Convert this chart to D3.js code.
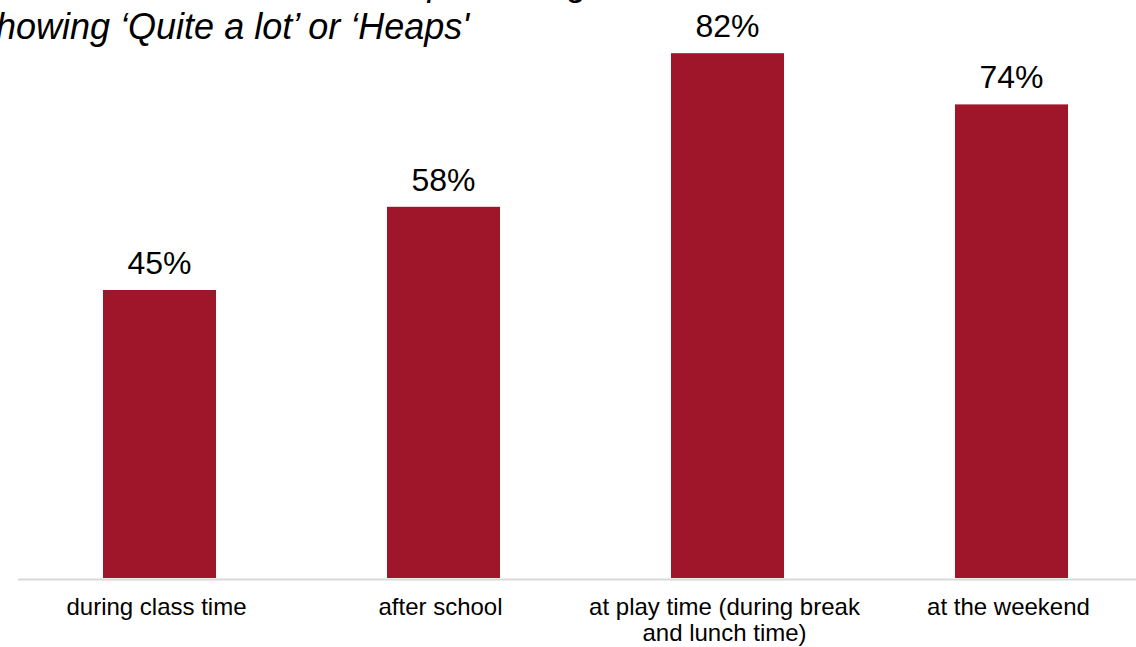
<!DOCTYPE html>
<html>
<head>
<meta charset="utf-8">
<script src="https://cdn.jsdelivr.net/npm/d3@7"></script>
<style>
  html, body { margin: 0; padding: 0; background: #fff; overflow: hidden; }
  svg { display: block; font-family: "Liberation Sans", Arial, sans-serif; }
</style>
</head>
<body>
<svg id="chart" width="1136" height="647"></svg>
<script>
// Share of children answering 'Quite a lot' or 'Heaps'
const categories = [
  ["during class time"],
  ["after school"],
  ["at play time (during break", "and lunch time)"],
  ["at the weekend"]
];
const values = [45, 58, 82, 74];
const titleLines = [
  "How much children are active, percentage",
  "showing \u2018Quite a lot\u2019 or \u2018Heaps'"
];

const svg = d3.select("#chart");
const baseY = 578;

const x = d3.scaleBand()
  .domain(d3.range(values.length))
  .range([17.5, 1153.5])
  .paddingInner(0.602)
  .paddingOuter(0.301);

const y = d3.scaleLinear()
  .domain([0, 100])
  .range([baseY, baseY - 640]);

// Title (two italic lines, top-left; runs past the top and left edges)
svg.append("text")
  .attr("x", 608)
  .attr("y", -5)
  .attr("text-anchor", "end")
  .attr("font-style", "italic")
  .attr("font-size", 36)
  .attr("fill", "#000")
  .text(titleLines[0]);
svg.append("text")
  .attr("x", -22)
  .attr("y", 39)
  .attr("font-style", "italic")
  .attr("font-size", 36)
  .attr("fill", "#000")
  .text(titleLines[1]);

// Bars
svg.append("g").selectAll("rect")
  .data(values)
  .join("rect")
  .attr("x", (d, i) => x(i))
  .attr("width", x.bandwidth())
  .attr("y", d => y(d))
  .attr("height", d => y(0) - y(d))
  .attr("fill", "#9F1529");

// Value labels
svg.append("g").selectAll("text")
  .data(values)
  .join("text")
  .attr("x", (d, i) => x(i) + x.bandwidth() / 2)
  .attr("y", d => y(d) - 16)
  .attr("text-anchor", "middle")
  .attr("font-size", 32)
  .attr("fill", "#000")
  .text(d => d + "%");

// Baseline axis
const xAxis = d3.axisBottom(x).tickSize(0).tickFormat("");
const axisG = svg.append("g")
  .attr("transform", `translate(0,${baseY + 1})`)
  .call(xAxis);
axisG.select(".domain").attr("stroke", "#d9d9d9").attr("stroke-width", 2);

// Category labels
const catG = svg.append("g");
categories.forEach((lines, i) => {
  const t = catG.append("text")
    .attr("text-anchor", "middle")
    .attr("font-size", 24)
    .attr("fill", "#000");
  lines.forEach((ln, j) => {
    t.append("tspan")
      .attr("x", x(i) + x.bandwidth() / 2 - 3)
      .attr("y", 615 + j * 26)
      .text(ln);
  });
});
</script>
</body>
</html>
